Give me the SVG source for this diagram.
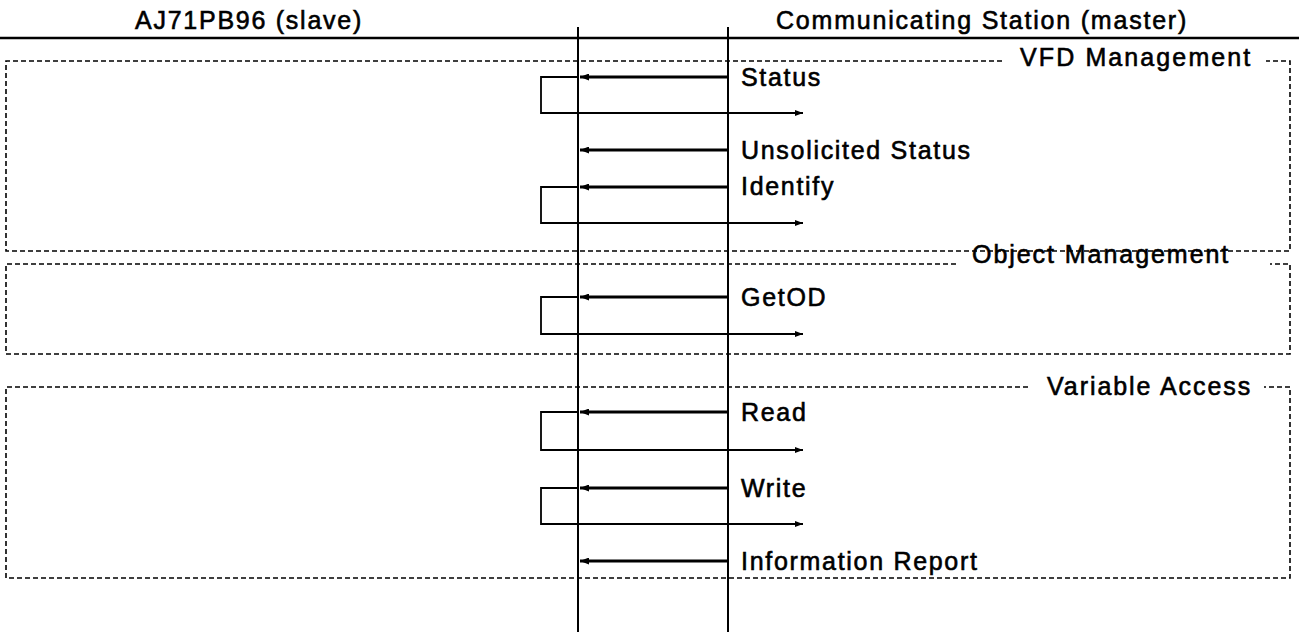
<svg xmlns="http://www.w3.org/2000/svg" width="1299" height="632" viewBox="0 0 1299 632">
<defs>
<marker id="reqHead" markerWidth="9" markerHeight="7" refX="9" refY="3.5" orient="auto" markerUnits="userSpaceOnUse"><path d="M0,0 L9,3.5 L0,7 Z" fill="#000"/></marker>
<marker id="resHead" markerWidth="8" markerHeight="6" refX="8" refY="3" orient="auto" markerUnits="userSpaceOnUse"><path d="M0,0 L8,3 L0,6 Z" fill="#000"/></marker>
</defs>
<style>
.t{font-family:"Liberation Sans",Arial,Helvetica,sans-serif;font-size:25px;fill:#000;stroke:#000;stroke-width:0.6;letter-spacing:1.7px}
.life{stroke:#000;stroke-width:2;fill:none}
.hdr{stroke:#000;stroke-width:2.5;fill:none}
.box{stroke:#000;stroke-width:1.6;stroke-dasharray:5 3;fill:none}
.req{stroke:#000;stroke-width:3.2;fill:none}
.res{stroke:#000;stroke-width:1.8;fill:none}
</style>
<rect width="1299" height="632" fill="#fff"/>

<g id="header">
  <line class="hdr" x1="0" y1="38" x2="1299" y2="38"/>
  <text class="t" x="135" y="29" textLength="228" lengthAdjust="spacing">AJ71PB96 (slave)</text>
  <text class="t" x="776" y="29" textLength="412" lengthAdjust="spacing">Communicating Station (master)</text>
</g>

<g id="lifelines">
  <line class="life" x1="578" y1="27" x2="578" y2="632"/>
  <line class="life" x1="728" y1="27" x2="728" y2="632"/>
</g>

<g id="vfd-management">
  <path class="box" d="M1002,61 H6 V251 H1290 V61 H1266"/>
  <text class="t" x="1020" y="66" textLength="232" lengthAdjust="spacing">VFD Management</text>
</g>

<g id="object-management">
  <path class="box" d="M956,264 H6 V354 H1290 V264 H1270"/>
  <text class="t" x="972" y="263" textLength="258" lengthAdjust="spacing">Object Management</text>
</g>

<g id="variable-access">
  <path class="box" d="M1028,387 H6 V578 H1290 V387 H1264"/>
  <text class="t" x="1047" y="395" textLength="205" lengthAdjust="spacing">Variable Access</text>
</g>

<g id="labels">
  <text class="t" x="741" y="86">Status</text>
  <text class="t" x="741" y="159">Unsolicited Status</text>
  <text class="t" x="741" y="195">Identify</text>
  <text class="t" x="741" y="306">GetOD</text>
  <text class="t" x="741" y="421">Read</text>
  <text class="t" x="741" y="497">Write</text>
  <text class="t" x="741" y="570">Information Report</text>
</g>

<g id="connectors">
  <path class="req" d="M728,77 H580" marker-end="url(#reqHead)"/>
  <path class="res" d="M578,77 H541 V113 H803" marker-end="url(#resHead)"/>

  <path class="req" d="M728,150 H580" marker-end="url(#reqHead)"/>

  <path class="req" d="M728,187 H580" marker-end="url(#reqHead)"/>
  <path class="res" d="M578,187 H541 V223 H803" marker-end="url(#resHead)"/>

  <path class="req" d="M728,297 H580" marker-end="url(#reqHead)"/>
  <path class="res" d="M578,297 H541 V334 H803" marker-end="url(#resHead)"/>

  <path class="req" d="M728,412 H580" marker-end="url(#reqHead)"/>
  <path class="res" d="M578,412 H541 V450 H803" marker-end="url(#resHead)"/>

  <path class="req" d="M728,488 H580" marker-end="url(#reqHead)"/>
  <path class="res" d="M578,488 H541 V524 H803" marker-end="url(#resHead)"/>

  <path class="req" d="M728,561 H580" marker-end="url(#reqHead)"/>
</g>
</svg>
